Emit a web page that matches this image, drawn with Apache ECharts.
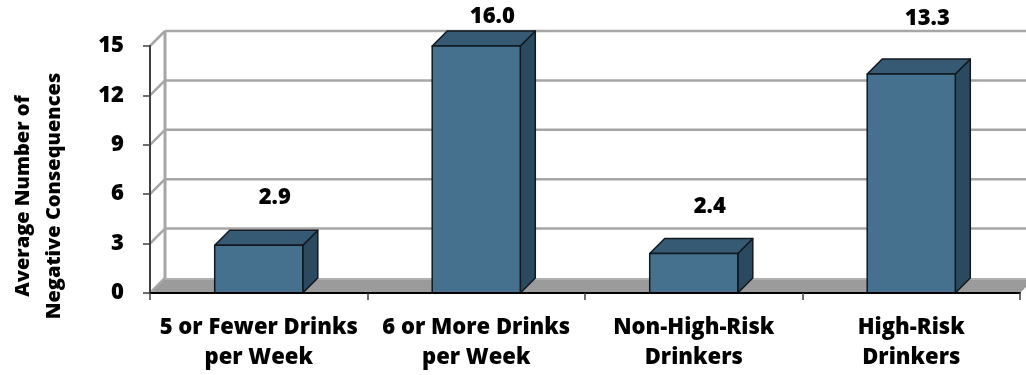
<!DOCTYPE html>
<html>
<head>
<meta charset="utf-8">
<script src="https://cdn.jsdelivr.net/npm/echarts@6/dist/echarts.min.js"></script>
<style>
  html, body { margin: 0; padding: 0; background: #ffffff; }
  #chart { width: 1026px; height: 375px; }
</style>
</head>
<body>
<div id="chart"></div>
<script>
// Average number of negative consequences by drinking group
const categories = [
  '5 or Fewer Drinks\nper Week',
  '6 or More Drinks\nper Week',
  'Non-High-Risk\nDrinkers',
  'High-Risk\nDrinkers'
];
const values = [2.9, 16.0, 2.4, 13.3];
const valueLabels = ['2.9', '16.0', '2.4', '13.3'];
const yTicks = [0, 3, 6, 9, 12, 15];
const yMin = 0;
const yMax = 15;
const yStep = 3;
const axisTitle = 'Average Number of\nNegative Consequences';

// depth of the 3-D box (screen offset of the back plane)
const DX = 15;
const DY = 15;
const FONT = '"Open Sans", "DejaVu Sans", sans-serif';
const WEIGHT = 800;
const GRID_COLOR = '#a6a6a6';

const chart = echarts.init(document.getElementById('chart'), null, { renderer: 'canvas' });

// floor, left wall and back-wall gridlines
function renderFrame(params, api) {
  const cs = params.coordSys;
  const left = cs.x;
  const right = cs.x + cs.width;
  const y0 = api.coord([0, yMin])[1];
  const yTop = api.coord([0, yMax])[1];
  const children = [];
  children.push({
    type: 'polygon',
    shape: { points: [[left, y0], [left + DX, y0 - DY], [right + DX, y0 - DY], [right, y0]] },
    style: { fill: '#9b9b9b' }
  });
  children.push({
    type: 'line',
    shape: { x1: left + DX, y1: y0 - DY + 1, x2: right + DX, y2: y0 - DY + 1 },
    style: { stroke: '#b0b0b0', lineWidth: 2 }
  });
  yTicks.forEach(function (t) {
    const y = api.coord([0, t])[1];
    if (t !== yMin) {
      children.push({
        type: 'line',
        shape: { x1: left + DX, y1: y - DY, x2: right + DX, y2: y - DY },
        style: { stroke: GRID_COLOR, lineWidth: 2.5 }
      });
    }
    children.push({
      type: 'line',
      shape: { x1: left, y1: y, x2: left + DX, y2: y - DY },
      style: { stroke: GRID_COLOR, lineWidth: 2.5 }
    });
  });
  children.push({
    type: 'line',
    shape: { x1: left + DX, y1: yTop - DY, x2: left + DX, y2: y0 - DY },
    style: { stroke: GRID_COLOR, lineWidth: 3 }
  });
  return { type: 'group', children: children };
}

// one 3-D column: front, side and top faces plus its value label
function renderBar(params, api) {
  const idx = api.value(0);
  const v = api.value(1);
  const shown = Math.min(Math.max(v, yMin), yMax);
  const top = api.coord([idx, shown]);
  const base = api.coord([idx, yMin]);
  const bw = api.size([1, 0])[0] * 0.405;
  const x0 = top[0] - bw / 2;
  const x1 = top[0] + bw / 2;
  const yt = top[1];
  const yb = base[1];
  const edge = { stroke: '#111820', lineWidth: 1.5, lineJoin: 'round' };
  const labelY = Math.max(17, yt - DY - 30 - 0.75 * v);
  return {
    type: 'group',
    children: [
      {
        type: 'polygon',
        shape: { points: [[x1, yb], [x1 + DX, yb - DY], [x1 + DX, yt - DY], [x1, yt]] },
        style: Object.assign({ fill: '#2c4a5f' }, edge)
      },
      {
        type: 'polygon',
        shape: { points: [[x0, yt], [x0 + DX, yt - DY], [x1 + DX, yt - DY], [x1, yt]] },
        style: Object.assign({ fill: '#365a73' }, edge)
      },
      {
        type: 'rect',
        shape: { x: x0, y: yt, width: bw, height: yb - yt },
        style: Object.assign({ fill: '#46718e' }, edge)
      },
      {
        type: 'text',
        x: top[0] + 16,
        y: labelY,
        style: {
          text: valueLabels[params.dataIndex],
          fontFamily: FONT,
          fontWeight: WEIGHT,
          fontSize: 22,
          fill: '#000000',
          align: 'center',
          verticalAlign: 'middle'
        }
      }
    ]
  };
}

const option = {
  animation: false,
  backgroundColor: '#ffffff',
  grid: { left: 150, right: 6, top: 46, bottom: 82, containLabel: false },
  xAxis: {
    type: 'category',
    data: categories,
    z: 10,
    axisLine: { show: true, lineStyle: { color: '#000000', width: 2 } },
    axisTick: { show: true, length: 7, lineStyle: { color: '#404040', width: 1.5 } },
    axisLabel: {
      interval: 0,
      margin: 20,
      color: '#000000',
      fontFamily: FONT,
      fontWeight: WEIGHT,
      fontSize: 22,
      lineHeight: 30
    },
    splitLine: { show: false }
  },
  yAxis: {
    type: 'value',
    min: yMin,
    max: yMax,
    interval: yStep,
    z: 10,
    axisLine: { show: true, lineStyle: { color: '#404040', width: 2 } },
    axisTick: { show: true, length: 7, lineStyle: { color: '#404040', width: 1.5 } },
    axisLabel: {
      margin: 26,
      color: '#000000',
      fontFamily: FONT,
      fontWeight: WEIGHT,
      fontSize: 22
    },
    splitLine: { show: false }
  },
  graphic: [{
    type: 'text',
    x: 39,
    y: 196,
    rotation: Math.PI / 2,
    style: {
      text: axisTitle,
      fontFamily: FONT,
      fontWeight: WEIGHT,
      fontSize: 20,
      lineHeight: 31,
      fill: '#000000',
      align: 'center',
      verticalAlign: 'middle'
    }
  }],
  series: [
    {
      type: 'custom',
      name: 'frame',
      renderItem: renderFrame,
      data: [[0, 0]],
      z: 1,
      silent: true
    },
    {
      type: 'custom',
      name: 'Average Number of Negative Consequences',
      renderItem: renderBar,
      data: values.map(function (v, i) { return [i, v]; }),
      z: 3
    }
  ]
};

chart.setOption(option);
</script>
</body>
</html>
